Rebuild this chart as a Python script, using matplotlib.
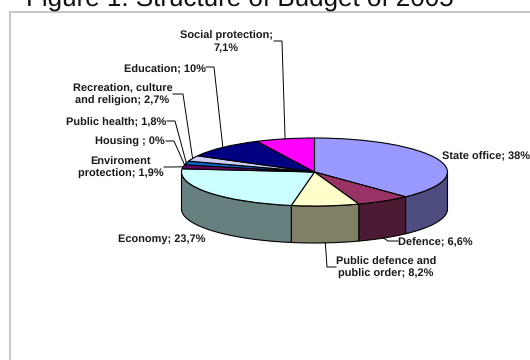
import numpy as np
import matplotlib
matplotlib.use("Agg")
import matplotlib.pyplot as plt
from matplotlib.colors import to_rgb
from matplotlib.patches import Wedge, Polygon, Rectangle
from matplotlib.transforms import Affine2D

plt.rcParams['font.family'] = ['Liberation Sans', 'DejaVu Sans']
plt.rcParams['text.hinting'] = 'none'
plt.rcParams['text.hinting_factor'] = 1

title = "Figure 1. Structure of Budget of 2005"
labels = ["State office; 38%", "Defence; 6,6%", "Public defence and\npublic order; 8,2%",
          "Economy; 23,7%", "Enviroment\nprotection; 1,9%", "Housing ; 0%",
          "Public health; 1,8%", "Recreation, culture\nand religion; 2,7%",
          "Education; 10%", "Social protection;\n7,1%"]
values = [38, 6.6, 8.2, 23.7, 1.9, 0, 1.8, 2.7, 10, 7.1]
top_colors = ["#9999FF", "#993366", "#FFFFCC", "#CCFFFF", "#660066",
              "#FF8080", "#0066CC", "#CCCCFF", "#000080", "#FF00FF"]

W, H = 530, 360
CX, CY, RX, RY, DEPTH = 314.5, 172, 133, 34, 37

fig = plt.figure(figsize=(W / 100, H / 100), dpi=100)
ax = fig.add_axes([0, 0, 1, 1])
ax.set_xlim(0, W)
ax.set_ylim(H, 0)
ax.axis("off")

ax.add_patch(Rectangle((10.2, 12.3), 560, 400, fc="white", ec="#C0C0C0", lw=1.25, zorder=0))
ax.text(240, 6.5, title, ha="center", va="baseline", fontsize=19, color="#111111", zorder=1)

# Slice boundaries run clockwise from twelve o'clock.
edges = np.concatenate([[0], np.cumsum(values)]) / sum(values) * 2 * np.pi
mids = (edges[:-1] + edges[1:]) / 2


def rim(theta, drop=0.0):
    return CX + RX * np.sin(theta), CY - RY * np.cos(theta) + drop


# Side walls: only the front half of the rim is visible, in half-bright colours.
for a0, a1, col in zip(edges[:-1], edges[1:], top_colors):
    lo, hi = max(a0, np.pi / 2), min(a1, 3 * np.pi / 2)
    if hi <= lo:
        continue
    t = np.linspace(lo, hi, 80)
    xt, yt = rim(t)
    xb, yb = rim(t[::-1], DEPTH)
    shade = tuple(c * 0.5 for c in to_rgb(col))
    ax.add_patch(Polygon(np.column_stack([np.r_[xt, xb], np.r_[yt, yb]]), closed=True,
                         fc=shade, ec="black", lw=0.8, zorder=2))

# Top face: wedges of a unit circle squashed into the ellipse.
squash = Affine2D().scale(RX, -RY).translate(CX, CY) + ax.transData
for a0, a1, col in zip(edges[:-1], edges[1:], top_colors):
    if a1 > a0:
        ax.add_patch(Wedge((0, 0), 1, 90 - np.degrees(a1), 90 - np.degrees(a0), fc=col,
                           ec="black", lw=0.8, transform=squash, zorder=3))

# Label centres, in figure pixels.
label_x = [486.5, 435, 386, 161.5, 120.5, 129.5, 116.5, 122.5, 164.5, 226]
label_y = [156, 242, 268, 239, 168, 141.5, 122, 95, 69, 42]
for text, x, y in zip(labels, label_x, label_y):
    ax.text(x, y, text, ha="center", va="center", multialignment="center", fontsize=8.1,
            fontweight="bold", color="#1A1A1A", linespacing=1.26, zorder=5)

# Leader lines: text end, elbow, then the midpoint of the slice's rim.
leader_slices = [1, 2, 4, 5, 6, 7, 8, 9]
leader_starts = [(398, 241), (336, 267), (164, 167), (166, 141), (167, 121), (173, 94),
                 (206, 67), (274, 41)]
leader_elbows = [(388, 241), (327, 267), (172, 167), (174, 141), (175, 121), (183, 94),
                 (214, 67), (282, 41)]
for i, start, elbow in zip(leader_slices, leader_starts, leader_elbows):
    drop = DEPTH if np.pi / 2 < mids[i] < 3 * np.pi / 2 else 0.0
    end = rim(mids[i], drop)
    ax.plot([start[0], elbow[0], end[0]], [start[1], elbow[1], end[1]],
            color="black", lw=0.7, solid_joinstyle="miter", zorder=4)

fig.savefig("out.png", dpi=100)
